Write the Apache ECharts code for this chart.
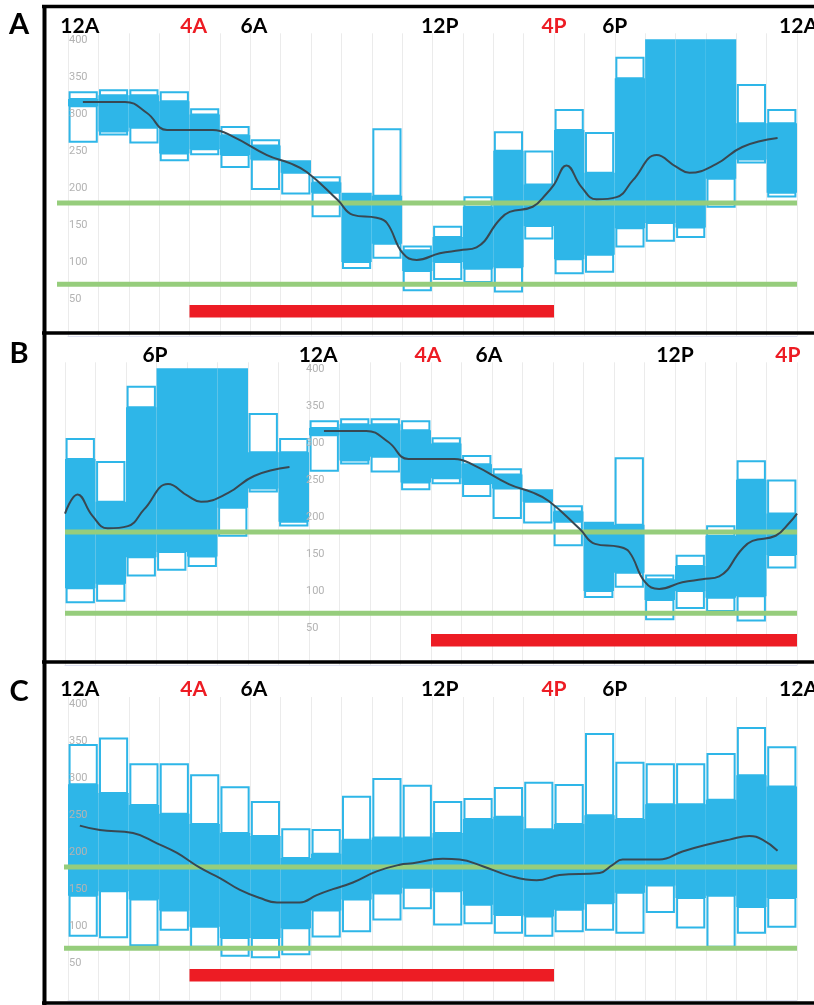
<!DOCTYPE html>
<html><head><meta charset="utf-8">
<script src="https://cdn.jsdelivr.net/npm/echarts@6/dist/echarts.min.js"></script>
<style>html,body{margin:0;padding:0;background:#fff}#c{width:814px;height:1005px}</style>
</head><body><div id="c"></div>
<script>
// ---------------- DATA ----------------
const hours = [0,1,2,3,4,5,6,7,8,9,10,11,12,13,14,15,16,17,18,19,20,21,22,23];

// Panel A: hourly percentiles (10th, 25th, 75th, 90th), mg/dL
const aP90 = [330,333,333,330,307,283,265,238,215,194,280,121,148,188,276,250,306,275,377,402,402,402,340,306];
const aP75 = [321,326,326,318,300,272,258,238,208,194,190,116,134,175,251,205,279,221,349,402,402,402,288,288];
const aP25 = [311,277,282,247,253,245,239,221,194,100,125, 88,100, 91, 93,149,104,110,146,153,147,213,239,194];
const aP10 = [263,273,262,238,246,229,199,193,162, 92,106, 62, 77, 73, 60,132, 85, 87,121,129,134,175,235,189];
// Panel A: mean curve (hour, value)
const aMeanX = [0.49,1.88,2.6,3.26,4.77,5.43,6.55,7.3,7.86,8.88,9.38,10.16,10.5,11.02,11.48,12.24,12.9,13.45,14.2,14.54,15.3,15.76,16.0,16.41,16.9,17.4,18.06,18.6,19.38,20.03,20.46,21.35,22.2,23.36];
const aMeanY = [317,317,302,279,279,270,245,234,222,184,164,160,153,112,103,112,116,120,157,168,175,193,205,231,202,185,188,211,245,229,221,233,256,268];

// Panel B: same data as A, starting at 4P
const bStartHour = 16;

// Panel C
const cP90 = [345,354,319,319,304,288,268,231,230,275,299,290,268,272,287,294,291,360,321,319,319,333,368,342];
const cP75 = [292,280,264,252,238,226,222,192,198,217,220,220,226,245,248,231,238,250,245,265,265,271,304,289];
const cP25 = [141,147,136,121, 99, 84, 84, 97,121,136,144,152,147,129,115,113,122,131,145,155,138,141,126,138];
const cP10 = [ 87, 85, 74, 95, 72, 60, 58, 62, 86, 93,109,124,102,104, 91, 87, 93, 95, 91,119, 98, 72, 91, 99];
const cMeanX = [0.39,1.05,2.14,2.93,3.59,4.34,5.0,5.66,6.32,6.88,7.63,8.19,8.72,9.38,10.16,10.92,11.35,12.34,12.89,13.65,14.54,15.43,16.18,17.5,17.93,18.26,19.47,20.23,21.02,21.78,22.43,22.86,23.36];
const cMeanY = [236,230,226,212,199,179,165,149,138,132,132,142,150,159,174,183,185,191,190,181,168,162,169,172,183,190,190,201,210,217,222,217,202];

// Target range lines and highlighted period
const targetLines = [180, 70];
const periodStart = 4, periodEnd = 16;

// Time labels
const acTimeText = ['12A','4A','6A','12P','4P','6P','12A'];
const acTimePos  = [0.39, 4.14, 6.12, 12.24, 16.0, 18.0, 24.05];
const bTimeText  = ['6P','12A','4A','6A','12P','4P'];
const bTimePos   = [2.95, 8.3, 11.9, 13.9, 20.0, 23.7];
const redLabels = ['4A','4P'];
const yTicks = [50,100,150,200,250,300,350,400];

// ---------------- CHART ----------------
const BLUE = '#2eb6e8', GREEN = '#96cd7c', RED = '#ed1c24', DARK = '#384852';

function rows(p10,p25,p75,p90,shift){
  return hours.map(h => { const s = (h + shift) % 24; return [h, p10[s], p25[s], p75[s], p90[s]]; });
}
const aRows = rows(aP10,aP25,aP75,aP90,0);
const bRows = rows(aP10,aP25,aP75,aP90,bStartHour);
const cRows = rows(cP10,cP25,cP75,cP90,0);

const aMean = aMeanX.map((x,i)=>[x,aMeanY[i]]);
const cMean = cMeanX.map((x,i)=>[x,cMeanY[i]]);
const bMean1 = aMean.filter(p=>p[0]>=bStartHour).map(p=>[p[0]-bStartHour,p[1]]);
const bMean2 = aMean.filter(p=>p[0]<=bStartHour).map(p=>[p[0]+24-bStartHour,p[1]]);

function fillItem(params, api){
  const h = api.value(0);
  const p0 = api.coord([h, api.value(3)]);
  const p1 = api.coord([h+1, api.value(2)]);
  return {type:'rect', shape:{x:p0[0], y:p0[1], width:p1[0]-p0[0], height:p1[1]-p0[1]}, style:{fill:BLUE}};
}
function boxItem(params, api){
  const h = api.value(0), q10=api.value(1), q25=api.value(2), q75=api.value(3), q90=api.value(4);
  const xl = api.coord([h, 0])[0] + 1.6, xr = api.coord([h+1, 0])[0] - 1.6;
  const ch = [];
  function box(lo, hi){
    const yt = api.coord([h, hi])[1], yb = api.coord([h, lo])[1];
    ch.push({type:'rect', shape:{x:xl, y:yt, width:xr-xl, height:yb-yt}, style:{fill:'#fff', stroke:BLUE, lineWidth:2}});
  }
  if (q90 > q75) box(q75, q90);
  if (q25 > q10) box(q10, q25);
  return {type:'group', children: ch};
}
function greenItemFactory(extendLeft){
  return function(params, api){
    const v = api.value(0);
    const p0 = api.coord([0, v]), p1 = api.coord([24, v]);
    return {type:'line', shape:{x1:p0[0]-extendLeft, y1:p0[1], x2:p1[0], y2:p1[1]}, style:{stroke:GREEN, lineWidth:5}};
  };
}

const grids = [
  {left:68, right:17, top:33.3, height:302.6},
  {left:65, right:17, top:362.3, height:302.6},
  {left:68, right:17, top:697, height:303}
];
const greenExtend = [11, 0, 4];
const xAxes = grids.map((g,i)=>({
  type:'value', gridIndex:i, min:0, max:24, interval:1, position:'top',
  axisLine:{show:true, lineStyle:{color:'#dde0f1', width:1}},
  axisTick:{show:false}, axisLabel:{show:false},
  splitLine:{show:true, lineStyle:{color:'#ebebeb', width:1}}
}));
const yAxes = grids.map((g,i)=>({
  type:'value', gridIndex:i, min:0, max:410, interval:50, z:10,
  offset: i===1 ? -240 : 0,
  axisLine:{show:false}, axisTick:{show:false}, splitLine:{show:false},
  axisLabel:{inside:true, margin:1, color:'#b3b3b3', fontSize:11, fontFamily:'Roboto',
    formatter: v => yTicks.indexOf(v) >= 0 ? String(v) : ''}
}));

function panelSeries(i, rowsData, means, periodShift, timeText, timePos){
  const s = [];
  s.push({type:'custom', xAxisIndex:i, yAxisIndex:i, z:2, renderItem:fillItem, data:rowsData, encode:{x:0, y:[1,2,3,4]}, silent:true});
  s.push({type:'custom', xAxisIndex:i, yAxisIndex:i, z:3, renderItem:boxItem, data:rowsData, encode:{x:0, y:[1,2,3,4]}, silent:true});
  s.push({type:'custom', xAxisIndex:i, yAxisIndex:i, z:4, clip:false, silent:true,
    renderItem: greenItemFactory(greenExtend[i]), data: targetLines.map(v=>[v]), encode:{y:0}});
  s.push({type:'line', xAxisIndex:i, yAxisIndex:i, z:4, data:[], silent:true,
    markArea:{silent:true, itemStyle:{color:RED, opacity:1}, label:{show:false},
      data:[[{xAxis:periodStart+periodShift, yAxis:25},{xAxis:periodEnd+periodShift, yAxis:42}]]}
  });
  means.forEach(m=>{
    s.push({type:'line', xAxisIndex:i, yAxisIndex:i, z:5, data:m, smooth:0.45, symbol:'none', silent:true,
      lineStyle:{color:DARK, width:2}});
  });
  s.push({type:'scatter', xAxisIndex:i, yAxisIndex:i, z:6, clip:false, silent:true, symbolSize:1,
    itemStyle:{color:'#fff', opacity:1},
    data: timePos.map((x,k)=>({value:[x, 420, timeText[k]],
      label:{color: redLabels.indexOf(timeText[k])>=0 ? RED : '#000'}})),
    label:{show:true, position:'inside', opacity:1, formatter:p=>p.value[2], fontFamily:'Lato', fontWeight:'bold', fontSize:21}
  });
  return s;
}

const series = [].concat(
  panelSeries(0, aRows, [aMean], 0, acTimeText, acTimePos),
  panelSeries(1, bRows, [bMean1, bMean2], 24-bStartHour, bTimeText, bTimePos),
  panelSeries(2, cRows, [cMean], 0, acTimeText, acTimePos)
);

const graphic = [];
[6.5, 333, 662, 1003].forEach(y=>graphic.push({type:'line', z:100, shape:{x1:42, y1:y, x2:814, y2:y}, style:{stroke:'#000', lineWidth:3.5}}));
graphic.push({type:'line', z:100, shape:{x1:44.5, y1:5, x2:44.5, y2:1005}, style:{stroke:'#000', lineWidth:4}});
[['A',25],['B',354],['C',692]].forEach(([t,y])=>graphic.push({type:'text', z:100, x:19, y:y,
  style:{text:t, font:'bold 29px Lato', fill:'#000', align:'center', verticalAlign:'middle'}}));

const chart = echarts.init(document.getElementById('c'), null, {renderer:'canvas'});
chart.setOption({
  animation:false, backgroundColor:'#fff',
  grid: grids.map(g=>Object.assign({containLabel:false, outerBoundsMode:'none'}, g)),
  xAxis: xAxes, yAxis: yAxes, series: series, graphic: graphic
});
</script></body></html>
